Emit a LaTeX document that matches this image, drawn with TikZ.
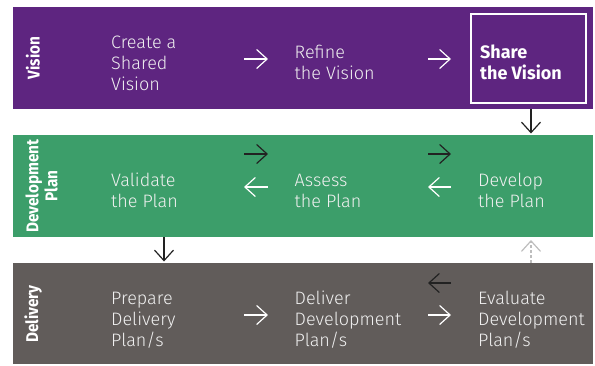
\documentclass[tikz,border=0pt]{standalone}
\usepackage{fontspec}
\setmainfont{Fira Sans}
\newfontfamily\lightfont{Fira Sans Light}
\newfontfamily\condfont{Fira Sans}[FakeStretch=0.9]
\usetikzlibrary{arrows.meta}
\definecolor{vpurple}{HTML}{5E2580}
\definecolor{dgreen}{HTML}{3C9E6A}
\definecolor{dgray}{HTML}{615C5A}
\definecolor{dashgray}{HTML}{BDBDBD}
\definecolor{darrow}{HTML}{222222}
\tikzset{
  band/.style={fill=#1,draw=none},
  steptext/.style={anchor=base west,inner sep=0pt,align=left,text=white!94!black,
    font=\lightfont\fontsize{18}{21}\selectfont},
  sharetext/.style={anchor=base west,inner sep=0pt,align=left,text=white,
    font=\bfseries\fontsize{18}{21}\selectfont},
  sidelabel/.style={rotate=90,inner sep=0pt,align=center,text=white,
    font=\condfont\bfseries\fontsize{17}{19}\selectfont},
  flow/.style={-{Straight Barb[length=10.5pt,width=19pt]},line width=1.2pt},
  whiteflow/.style={flow,draw=white},
  darkflow/.style={flow,draw=darrow},
  dashflow/.style={flow,draw=dashgray,dash pattern=on 3pt off 2pt}
}
\begin{document}
\begin{tikzpicture}[x=1pt,y=-1pt]
\useasboundingbox (0,0) rectangle (595,365);
% bands
\path[band=vpurple] (13,7) rectangle (593,109);
\path[band=dgreen] (13,135) rectangle (593,237);
\path[band=dgray] (13,263) rectangle (593,364);
% side labels
\node[sidelabel] (lvision) at (33,58) {Vision};
\node[sidelabel] (ldev) at (41.5,186) {Development\\Plan};
\node[sidelabel] (ldel) at (33,314) {Delivery};
% vision row (anchor = baseline of last line)
\node[steptext] (create) at (111,90) {Create a\\Shared\\Vision};
\node[steptext] (refine) at (294.5,79) {Refine\\the Vision};
\node[sharetext] (share) at (480,79) {Share\\the Vision};
\draw[white,line width=2pt] (471,14) rectangle (586,103);
% development row
\node[steptext] (validate) at (111,207) {Validate\\the Plan};
\node[steptext] (assess) at (294.5,207) {Assess\\the Plan};
\node[steptext] (develop) at (478,207) {Develop\\the Plan};
% delivery row
\node[steptext] (prepare) at (111,346) {Prepare\\Delivery\\Plan/s};
\node[steptext] (deliver) at (294.5,346) {Deliver\\Development\\Plan/s};
\node[steptext] (evaluate) at (478,346) {Evaluate\\Development\\Plan/s};
% arrow end points
\coordinate (a1s) at (244,59); \coordinate (a1e) at (268,59);
\coordinate (a2s) at (428,59); \coordinate (a2e) at (451,59);
\coordinate (b1s) at (244,154); \coordinate (b1e) at (268,154);
\coordinate (b2s) at (428,154); \coordinate (b2e) at (451,154);
\coordinate (c1s) at (268,187); \coordinate (c1e) at (244,187);
\coordinate (c2s) at (451,187); \coordinate (c2e) at (428,187);
\coordinate (d1s) at (451,283); \coordinate (d1e) at (428,283);
\coordinate (e1s) at (244,315); \coordinate (e1e) at (268,315);
\coordinate (e2s) at (428,315); \coordinate (e2e) at (451,315);
\coordinate (v1s) at (531,109); \coordinate (v1e) at (531,133.5);
\coordinate (v2s) at (164,237); \coordinate (v2e) at (164,261.5);
\coordinate (v3s) at (531,263); \coordinate (v3e) at (531,240);
% arrows
\draw[whiteflow] (a1s) -- (a1e);
\draw[whiteflow] (a2s) -- (a2e);
\draw[darkflow] (b1s) -- (b1e);
\draw[darkflow] (b2s) -- (b2e);
\draw[whiteflow] (c1s) -- (c1e);
\draw[whiteflow] (c2s) -- (c2e);
\draw[darkflow] (d1s) -- (d1e);
\draw[whiteflow] (e1s) -- (e1e);
\draw[whiteflow] (e2s) -- (e2e);
\draw[darkflow] (v1s) -- (v1e);
\draw[darkflow] (v2s) -- (v2e);
\draw[dashflow] (v3s) -- (v3e);
\end{tikzpicture}
\end{document}
